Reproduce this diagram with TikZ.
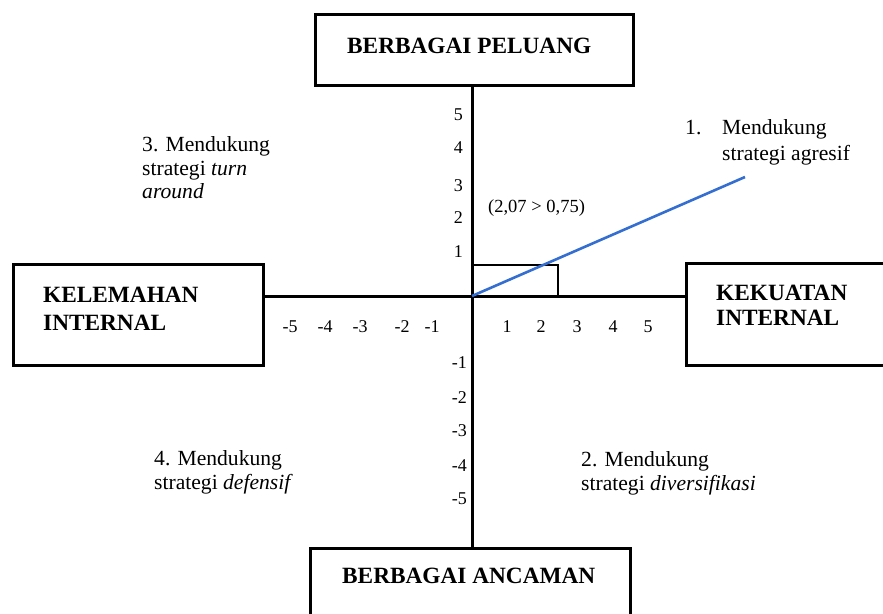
\documentclass[tikz,border=0pt]{standalone}
\usepackage{fontspec}
\setmainfont{Liberation Serif}
\definecolor{lineblue}{RGB}{52,110,208}
\begin{document}
\begin{tikzpicture}[x=1pt,y=-1pt,
  box/.style={draw=black, line width=3pt, fill=white, inner sep=0pt},
  title/.style={font=\fontsize{23.3}{27}\selectfont\bfseries, inner sep=0pt, anchor=base west},
  quad/.style={font=\fontsize{21.6}{25}\selectfont, inner sep=0pt, anchor=base west},
  num/.style={font=\fontsize{18}{21}\selectfont, inner sep=0pt, anchor=base},
  ynum/.style={num, anchor=base east},
]
\useasboundingbox (0,0) rectangle (883,613);
\coordinate (O) at (472,296);
% boxes
\node[box, minimum width=318pt, minimum height=71pt] (peluang) at (474.5,50) {};
\node[box, minimum width=320pt, minimum height=100pt] (ancaman) at (470.5,598.5) {};
\node[box, minimum width=250pt, minimum height=101pt] (kelemahan) at (138.5,315) {};
\node[box, minimum width=220pt, minimum height=102pt] (kekuatan) at (796.5,314.5) {};
% box titles
\node[title] (tp) at (347,53) {BERBAGAI PELUANG};
\node[title] (ta) at (342,583) {BERBAGAI ANCAMAN};
\node[title] (tk1) at (43,302) {KELEMAHAN};
\node[title] (tk2) at (43,330) {INTERNAL};
\node[title] (tu1) at (716,300) {KEKUATAN};
\node[title] (tu2) at (716,325) {INTERNAL};
% axes
\draw[line width=3pt] (peluang.south -| O) -- (ancaman.north -| O);
\draw[line width=3pt] (kelemahan.east |- O) -- (kekuatan.west |- O);
% small rectangle and line
\coordinate (R) at (558,265);
\draw[line width=2.5pt] (O) rectangle (R);
\coordinate (B) at (745,177);
\draw[lineblue, line width=2.6pt] (O) -- (B);
% y axis labels
\node[ynum] (y5) at (463,120) {5};
\node[ynum] (y4) at (463,153) {4};
\node[ynum] (y3) at (463,191) {3};
\node[ynum] (y2) at (463,223) {2};
\node[ynum] (y1) at (463,257) {1};
\node[ynum] (ym1) at (467,368) {-1};
\node[ynum] (ym2) at (467,403) {-2};
\node[ynum] (ym3) at (467,436) {-3};
\node[ynum] (ym4) at (467,471) {-4};
\node[ynum] (ym5) at (467,504) {-5};
% x axis labels
\node[num] (x1) at (507,332) {1};
\node[num] (x2) at (541,332) {2};
\node[num] (x3) at (577,332) {3};
\node[num] (x4) at (613,332) {4};
\node[num] (x5) at (648,332) {5};
\node[num] (xm5) at (290,332) {-5};
\node[num] (xm4) at (325,332) {-4};
\node[num] (xm3) at (360,332) {-3};
\node[num] (xm2) at (402,332) {-2};
\node[num] (xm1) at (432,332) {-1};
% annotation
\node[font=\fontsize{18.5}{22}\selectfont, inner sep=0pt, anchor=base west] (ratio) at (488,212) {(2,07 > 0,75)};
% quadrant labels
\node[quad] (q1n) at (685,134) {1.};
\node[quad] (q1a) at (722,134) {Mendukung};
\node[quad] (q1b) at (722,160) {strategi agresif};
\node[quad] (q2a) at (581,466) {2. Mendukung};
\node[quad] (q2b) at (581,490) {strategi \textit{diversifikasi}};
\node[quad] (q3a) at (142,151) {3. Mendukung};
\node[quad] (q3b) at (142,175) {strategi \textit{turn}};
\node[quad] (q3c) at (142,198) {\textit{around}};
\node[quad] (q4a) at (154,465) {4. Mendukung};
\node[quad] (q4b) at (154,489) {strategi \textit{defensif}};
\end{tikzpicture}
\end{document}
